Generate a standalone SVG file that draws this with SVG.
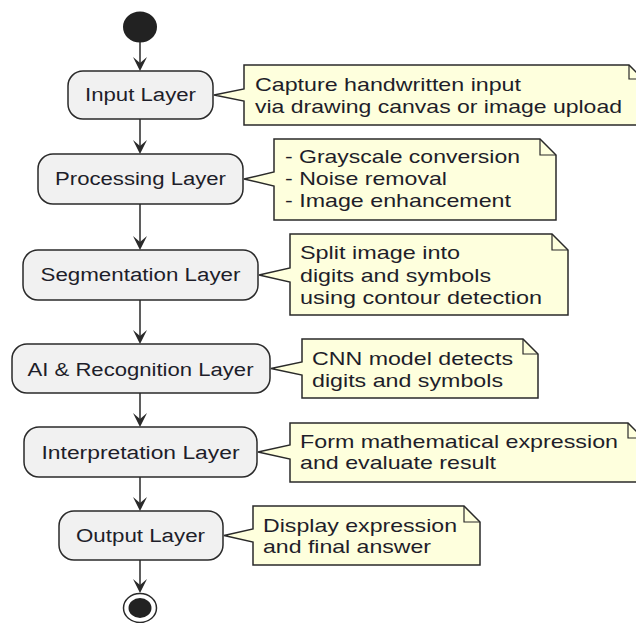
<svg xmlns="http://www.w3.org/2000/svg" width="636" height="623" viewBox="0 0 636 623">
<style>
.bg{fill:#ffffff}
.node rect{fill:#F1F1F1;stroke:#2a2a2a;stroke-width:1.5}
.node text{font-family:"Liberation Sans",Arial,sans-serif;font-size:18px;fill:#1e1e2a;text-anchor:middle}
.note .body{fill:#FEFFDD;stroke:#2a2a2a;stroke-width:1.5;stroke-linejoin:miter}
.note .fold{fill:none;stroke:#2a2a2a;stroke-width:1.2}
.note text{font-family:"Liberation Sans",Arial,sans-serif;font-size:18.5px;fill:#1e1e2a}
.edge line{stroke:#2a2a2a;stroke-width:1.5}
.edge polygon{fill:#2a2a2a}
</style>
<rect class="bg" x="0" y="0" width="636" height="623"/>

<g id="start"><ellipse cx="140" cy="27" rx="17" ry="15.5" fill="#222"/></g>

<g id="connectors" class="edge">
  <line x1="140" y1="42" x2="140" y2="69"/>
  <polygon points="140,71 133,57 140,63 147,57"/>
  <line x1="140" y1="119" x2="140" y2="152"/>
  <polygon points="140,154 133,140 140,146 147,140"/>
  <line x1="140" y1="204" x2="140" y2="248"/>
  <polygon points="140,250 133,236 140,242 147,236"/>
  <line x1="140" y1="300" x2="140" y2="342"/>
  <polygon points="140,344 133,330 140,336 147,330"/>
  <line x1="140" y1="393" x2="140" y2="425"/>
  <polygon points="140,427 133,413 140,419 147,413"/>
  <line x1="140" y1="477" x2="140" y2="509"/>
  <polygon points="140,511 133,497 140,503 147,497"/>
  <line x1="140" y1="560" x2="140" y2="591"/>
  <polygon points="140,593 133,579 140,585 147,579"/>
</g>

<g id="input" class="node">
  <rect x="68" y="71" width="145" height="48" rx="15"/>
  <text x="140.5" y="101" textLength="111" lengthAdjust="spacingAndGlyphs">Input Layer</text>
</g>
<g id="processing" class="node">
  <rect x="38" y="154" width="205" height="50" rx="15"/>
  <text x="140.5" y="185" textLength="171" lengthAdjust="spacingAndGlyphs">Processing Layer</text>
</g>
<g id="segmentation" class="node">
  <rect x="23" y="250" width="235" height="50" rx="15"/>
  <text x="140.5" y="281" textLength="200" lengthAdjust="spacingAndGlyphs">Segmentation Layer</text>
</g>
<g id="recognition" class="node">
  <rect x="12" y="344" width="258" height="49" rx="15"/>
  <text x="140.5" y="376" textLength="226" lengthAdjust="spacingAndGlyphs">AI &amp; Recognition Layer</text>
</g>
<g id="interpretation" class="node">
  <rect x="24" y="427" width="233" height="50" rx="15"/>
  <text x="140.5" y="459" textLength="198" lengthAdjust="spacingAndGlyphs">Interpretation Layer</text>
</g>
<g id="output" class="node">
  <rect x="59" y="511" width="164" height="49" rx="15"/>
  <text x="140.5" y="542" textLength="129" lengthAdjust="spacingAndGlyphs">Output Layer</text>
</g>

<g id="end">
  <ellipse cx="140" cy="608" rx="16.5" ry="14.5" fill="#fff" stroke="#2a2a2a" stroke-width="1.5"/>
  <ellipse cx="140" cy="608" rx="11.5" ry="10" fill="#222"/>
</g>

<g id="note1" class="note">
  <path class="body" d="M244,65 H629 L643,79 V125 H244 V101 L214,95 L244,89 Z"/>
  <path class="fold" d="M629,65 V79 H643"/>
  <text x="255" y="91" textLength="266" lengthAdjust="spacingAndGlyphs">Capture handwritten input</text>
  <text x="255" y="113" textLength="367" lengthAdjust="spacingAndGlyphs">via drawing canvas or image upload</text>
</g>
<g id="note2" class="note">
  <path class="body" d="M274,139 H540 L556,155 V220 H274 V186 L244,179 L274,172 Z"/>
  <path class="fold" d="M540,139 V155 H556"/>
  <text x="285" y="163" textLength="235" lengthAdjust="spacingAndGlyphs">- Grayscale conversion</text>
  <text x="285" y="185" textLength="162" lengthAdjust="spacingAndGlyphs">- Noise removal</text>
  <text x="285" y="207" textLength="226" lengthAdjust="spacingAndGlyphs">- Image enhancement</text>
</g>
<g id="note3" class="note">
  <path class="body" d="M290,234 H552 L568,250 V315 H290 V282 L259,275 L290,268 Z"/>
  <path class="fold" d="M552,234 V250 H568"/>
  <text x="300" y="259" textLength="160" lengthAdjust="spacingAndGlyphs">Split image into</text>
  <text x="300" y="282" textLength="191" lengthAdjust="spacingAndGlyphs">digits and symbols</text>
  <text x="300" y="304" textLength="242" lengthAdjust="spacingAndGlyphs">using contour detection</text>
</g>
<g id="note4" class="note">
  <path class="body" d="M302,339 H523 L538,354 V398 H302 V375 L271,368.5 L302,362 Z"/>
  <path class="fold" d="M523,339 V354 H538"/>
  <text x="312" y="365" textLength="201" lengthAdjust="spacingAndGlyphs">CNN model detects</text>
  <text x="312" y="387" textLength="191" lengthAdjust="spacingAndGlyphs">digits and symbols</text>
</g>
<g id="note5" class="note">
  <path class="body" d="M290,423 H628 L643,438 V482 H290 V459 L258,452 L290,445 Z"/>
  <path class="fold" d="M628,423 V438 H643"/>
  <text x="300" y="448" textLength="318" lengthAdjust="spacingAndGlyphs">Form mathematical expression</text>
  <text x="300" y="469" textLength="196" lengthAdjust="spacingAndGlyphs">and evaluate result</text>
</g>
<g id="note6" class="note">
  <path class="body" d="M253,506 H464 L480,522 V565 H253 V542 L224,535.5 L253,529 Z"/>
  <path class="fold" d="M464,506 V522 H480"/>
  <text x="263" y="532" textLength="194" lengthAdjust="spacingAndGlyphs">Display expression</text>
  <text x="263" y="553" textLength="168" lengthAdjust="spacingAndGlyphs">and final answer</text>
</g>
</svg>
